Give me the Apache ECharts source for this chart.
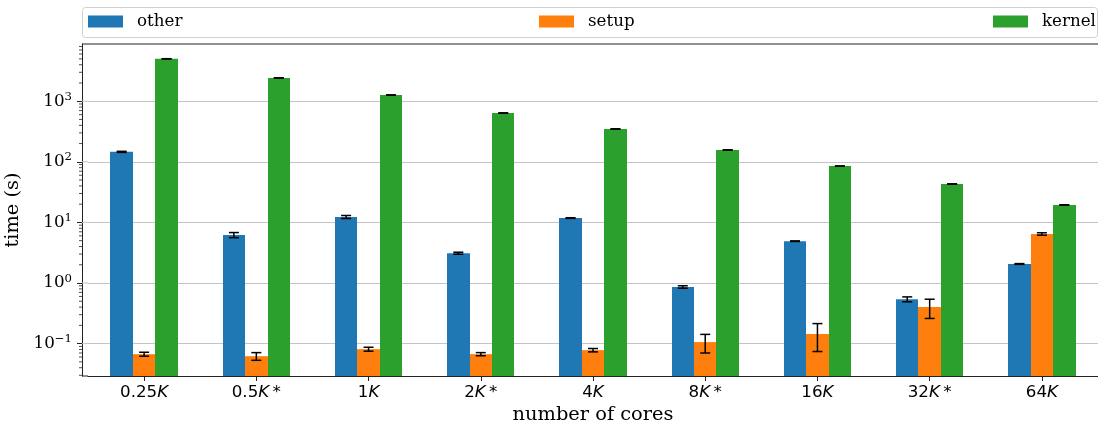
<!DOCTYPE html>
<html><head><meta charset="utf-8">
<script src="https://cdn.jsdelivr.net/npm/echarts@6/dist/echarts.min.js"></script>
<style>html,body{margin:0;padding:0;background:#fff}#c{width:1098px;height:427px}</style>
</head><body><div id="c"></div>
<script>
const categories = ['0.25K', '0.5K*', '1K', '2K*', '4K', '8K*', '16K', '32K*', '64K'];
const other = [146, 6.2, 12.3, 3.1, 11.8, 0.86, 4.9, 0.54, 2.06];
const otherErr = [3, 0.6, 0.7, 0.12, 0.15, 0.04, 0.05, 0.05, 0.03];
const setup = [0.067, 0.062, 0.081, 0.067, 0.078, 0.106, 0.144, 0.40, 6.44];
const setupErr = [0.005, 0.009, 0.006, 0.004, 0.005, 0.036, 0.07, 0.14, 0.3];
const kernel = [5000, 2420, 1265, 638, 348, 157, 85, 43, 19.4];
const kernelErr = [30, 12, 6, 3, 2, 1, 0.5, 0.3, 0.15];
const decades = [0.1, 1, 10, 100, 1000];
const minorTicks = [0.03, 0.04, 0.05, 0.06, 0.07, 0.08, 0.09,
  0.2, 0.3, 0.4, 0.5, 0.6, 0.7, 0.8, 0.9,
  2, 3, 4, 5, 6, 7, 8, 9,
  20, 30, 40, 50, 60, 70, 80, 90,
  200, 300, 400, 500, 600, 700, 800, 900,
  2000, 3000, 4000, 5000, 6000, 7000, 8000];
const yMin = 0.0292, yMax = 8790;
const colors = ['#1f77b4', '#ff7f0e', '#2ca02c'];
const names = ['other', 'setup', 'kernel'];
const AXIS_OFFSET = 6;
const BAR_FRAC = 0.2;

function rows(vals, errs, k) { return vals.map((v, i) => [i, v, errs[i], k]); }

function renderBar(params, api) {
  const i = api.value(0), v = api.value(1), k = api.value(3);
  const top = api.coord([i, v]);
  const base = api.coord([i, yMin]);
  const bw = api.size([1, 1])[0] * BAR_FRAC;
  const x0 = Math.round(top[0] + (k - 1.5) * bw);
  const x1 = Math.round(top[0] + (k - 0.5) * bw);
  return { type: 'rect', shape: { x: x0, y: top[1], width: x1 - x0, height: base[1] - top[1] },
    style: { fill: colors[k] } };
}

function renderErr(params, api) {
  const i = api.value(0), v = api.value(1), e = api.value(2), k = api.value(3);
  const hi = api.coord([i, v + e]);
  const lo = api.coord([i, v - e]);
  const bw = api.size([1, 1])[0] * BAR_FRAC;
  const x = hi[0] + (k - 1) * bw;
  const cap = 5;
  const style = { stroke: '#000', lineWidth: 1.5 };
  return { type: 'group', children: [
    { type: 'line', shape: { x1: x, y1: hi[1], x2: x, y2: lo[1] }, style },
    { type: 'line', shape: { x1: x - cap, y1: hi[1], x2: x + cap, y2: hi[1] }, style },
    { type: 'line', shape: { x1: x - cap, y1: lo[1], x2: x + cap, y2: lo[1] }, style }
  ]};
}

function renderFrame(params, api) {
  const cs = params.coordSys;
  const ax = cs.x - AXIS_OFFSET;
  const children = [];
  decades.forEach(d => {
    const y = api.coord([0, d])[1];
    children.push({ type: 'line', shape: { x1: ax, y1: y, x2: cs.x, y2: y }, style: { stroke: '#c4c4c4', lineWidth: 1 } });
  });
  minorTicks.forEach(m => {
    const y = api.coord([0, m])[1];
    children.push({ type: 'line', shape: { x1: ax - 3, y1: y, x2: ax, y2: y }, style: { stroke: '#222', lineWidth: 0.8 } });
  });
  children.push({ type: 'line', shape: { x1: ax, y1: cs.y, x2: cs.x + cs.width, y2: cs.y }, style: { stroke: '#222', lineWidth: 1 } });
  children.push({ type: 'line', shape: { x1: ax, y1: cs.y + cs.height, x2: cs.x, y2: cs.y + cs.height }, style: { stroke: '#222', lineWidth: 1 } });
  return { type: 'group', children };
}

const supMap = v => {
  const ex = Math.round(Math.log10(v));
  return '{b|10}{s|' + (ex < 0 ? '\u2212' + (-ex) : ex) + '}';
};

const catFmt = c => {
  const star = c.endsWith('*');
  const num = c.replace('*', '').replace('K', '');
  return num + '{i|K}' + (star ? '{n|\u2009*}' : '');
};

const series = [];
[[other, otherErr], [setup, setupErr], [kernel, kernelErr]].forEach((p, k) => {
  series.push({ type: 'custom', name: names[k], data: rows(p[0], p[1], k),
    encode: { x: 0, y: 1 }, renderItem: renderBar, z: 2, itemStyle: { color: colors[k] }, clip: true });
});
[[other, otherErr], [setup, setupErr], [kernel, kernelErr]].forEach((p, k) => {
  series.push({ type: 'custom', name: names[k] + ' err', data: rows(p[0], p[1], k),
    encode: { x: 0, y: 1 }, renderItem: renderErr, z: 5, silent: true, clip: false });
});
series.push({ type: 'custom', name: 'frame', data: [[0, 1]], encode: { x: 0, y: 1 },
  renderItem: renderFrame, z: 6, silent: true, clip: false });

const legendBase = (name, k, left) => ({
  data: [{ name, icon: 'rect', itemStyle: { color: colors[k], borderWidth: 0 } }],
  left, top: 13, padding: 0, itemWidth: 35, itemHeight: 12,
  selectedMode: false,
  textStyle: { fontFamily: 'DejaVu Serif', fontSize: 16.7, color: '#000', padding: [0, 0, 0, 9] }
});

const chart = echarts.init(document.getElementById('c'), null, { renderer: 'canvas' });
chart.setOption({
  animation: false,
  backgroundColor: '#fff',
  graphic: [{ type: 'rect', left: 82, top: 7, z: 0,
    shape: { width: 1015, height: 30, r: 3 }, style: { fill: '#fff', stroke: '#d0d0d0', lineWidth: 1 } }],
  legend: [legendBase('other', 0, 88), legendBase('setup', 1, 539), legendBase('kernel', 2, 993)],
  grid: { left: 88, right: 0, top: 44, bottom: 51, containLabel: false, outerBoundsMode: 'none' },
  xAxis: {
    type: 'category', data: categories,
    axisLine: { show: true, lineStyle: { color: '#222', width: 1 } },
    axisTick: { show: true, alignWithLabel: true, length: 5, lineStyle: { color: '#222' } },
    axisLabel: { interval: 0, margin: 8, color: '#000', fontFamily: 'DejaVu Sans', fontSize: 16.7, formatter: catFmt,
      rich: { i: { fontFamily: 'DejaVu Sans', fontStyle: 'italic', fontSize: 16.7, color: '#000' },
              n: { fontFamily: 'DejaVu Sans', fontSize: 16.7, color: '#000' } } },
    splitLine: { show: false },
    name: 'number of cores', nameLocation: 'middle', nameGap: 28,
    nameTextStyle: { fontFamily: 'DejaVu Serif', fontSize: 19.4, color: '#000' }
  },
  yAxis: {
    type: 'log', logBase: 10, min: yMin, max: yMax, offset: AXIS_OFFSET,
    axisLine: { show: true, lineStyle: { color: '#222', width: 1 } },
    axisTick: { show: true, length: 5, lineStyle: { color: '#222' } },
    axisLabel: { margin: 10, showMinLabel: false, showMaxLabel: false, color: '#000',
      formatter: supMap,
      rich: { b: { fontFamily: 'DejaVu Serif', fontSize: 16.7, color: '#000' },
              s: { fontFamily: 'DejaVu Serif', fontSize: 11.7, color: '#000', padding: [0, 0, 9, 0] } } },
    splitLine: { show: true, showMinLine: false, showMaxLine: false, lineStyle: { color: '#c4c4c4', width: 1 } },
    name: 'time (s)', nameLocation: 'middle', nameGap: 52,
    nameTextStyle: { fontFamily: 'DejaVu Serif', fontSize: 19.4, color: '#000' }
  },
  series
});
</script></body></html>
